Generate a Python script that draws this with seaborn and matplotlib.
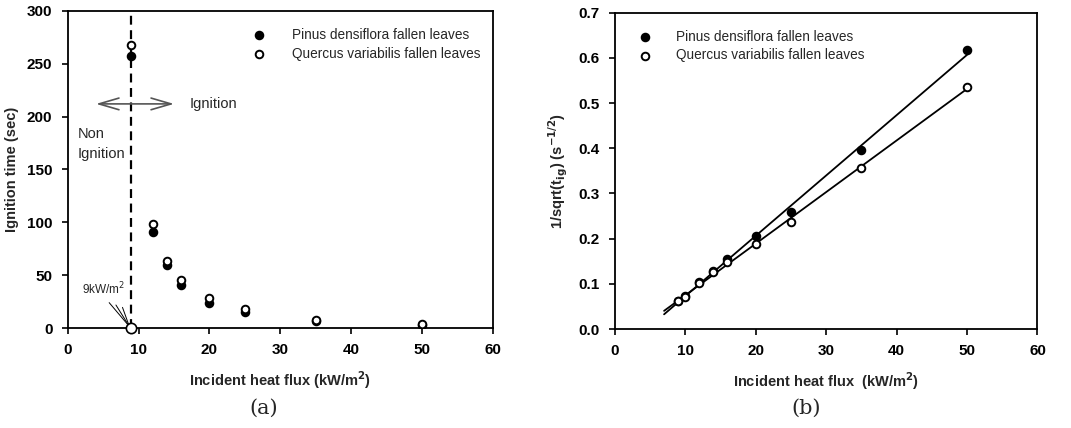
import numpy as np
import pandas as pd
import matplotlib
matplotlib.use("Agg")
import matplotlib.pyplot as plt
import seaborn as sns

# (a) ignition time vs incident heat flux
flux_a = [9, 12, 14, 16, 20, 25, 35, 50]
pinus_time = [257, 91, 60, 41, 24, 15, 6.5, 2.6]
quercus_time = [268, 98, 63, 45, 28, 18, 8, 3.5]
critical_flux = 9

# (b) 1/sqrt(t_ig) vs incident heat flux
flux_b = [9, 10, 12, 14, 16, 20, 25, 35, 50]
pinus_inv = [0.062, 0.072, 0.105, 0.128, 0.156, 0.206, 0.259, 0.397, 0.617]
quercus_inv = [0.061, 0.071, 0.101, 0.126, 0.148, 0.189, 0.236, 0.356, 0.536]
fit_range = [7, 50]

PINUS = "Pinus densiflora fallen leaves"
QUERCUS = "Quercus variabilis fallen leaves"

sns.set_theme(style="ticks")
plt.rcParams['font.family'] = ['Liberation Sans', 'DejaVu Sans']

fig = plt.figure(figsize=(10.71, 4.28), dpi=100)
ax1 = fig.add_axes([0.0632, 0.2336, 0.397, 0.741])
ax2 = fig.add_axes([0.574, 0.2313, 0.3947, 0.739])

df_a = pd.DataFrame({'flux': flux_a * 2,
                     'time': pinus_time + quercus_time,
                     'sp': [PINUS] * len(flux_a) + [QUERCUS] * len(flux_a)})
df_b = pd.DataFrame({'flux': flux_b * 2,
                     'inv': pinus_inv + quercus_inv,
                     'sp': [PINUS] * len(flux_b) + [QUERCUS] * len(flux_b)})

mk = dict(s=30, linewidth=1.4, edgecolor='black')

def draw_points(ax, df, ycol):
    for sp, fc in [(PINUS, 'black'), (QUERCUS, 'white')]:
        sub = df[df['sp'] == sp]
        sns.scatterplot(x='flux', y=ycol, data=sub, ax=ax, color=fc, label=sp,
                        zorder=3, **mk)

# ---- panel (a)
draw_points(ax1, df_a, 'time')
ax1.axvline(critical_flux, color='black', ls=(0, (4, 2.5)), lw=1.6, zorder=2)
ax1.scatter([critical_flux], [0], s=55, facecolor='white', edgecolor='black',
            linewidth=1.2, zorder=4, clip_on=False)
ax1.annotate('', xy=(3.6, 212), xytext=(15.4, 212),
             arrowprops=dict(arrowstyle='<->,head_length=1.2,head_width=0.35',
                             color='#555555', lw=1.2))
ax1.text(17.2, 212, 'Ignition', fontsize=10.5, va='center', ha='left')
ax1.text(1.4, 174, 'Non\nIgnition', fontsize=10.5, va='center', ha='left', linespacing=1.5)
ax1.text(2.0, 29, '9kW/m$^2$', fontsize=8.5, va='bottom', ha='left')
for sx, sy in [(5.6, 26), (6.6, 24), (7.6, 22)]:
    ax1.annotate('', xy=(8.7, 1.5), xytext=(sx, sy),
                 arrowprops=dict(arrowstyle='-', color='black', lw=0.7))
ax1.set_xlim(0, 60)
ax1.set_ylim(0, 300)
ax1.set_xticks(range(0, 61, 10))
ax1.set_yticks(range(0, 301, 50))
ax1.set_xlabel('Incident heat flux (kW/m$^\\mathbf{2}$)', fontsize=10.5, fontweight='bold', labelpad=9)
ax1.set_ylabel('Ignition time (sec)', fontsize=10.5, fontweight='bold', labelpad=6)

# ---- panel (b)
draw_points(ax2, df_b, 'inv')
xs = np.linspace(fit_range[0], fit_range[1], 50)
for yv in [pinus_inv, quercus_inv]:
    coef = np.polyfit(flux_b, yv, 1)
    sns.lineplot(x=xs, y=np.polyval(coef, xs), ax=ax2, color='black', lw=1.3, zorder=2)
ax2.set_xlim(0, 60)
ax2.set_ylim(0, 0.7)
ax2.set_xticks(range(0, 61, 10))
ax2.set_yticks(np.arange(0, 0.71, 0.1))
ax2.yaxis.set_major_formatter(matplotlib.ticker.FormatStrFormatter('%.1f'))
ax2.set_xlabel('Incident heat flux  (kW/m$^\\mathbf{2}$)', fontsize=10.5, fontweight='bold', labelpad=9)
ax2.set_ylabel('1/sqrt(t$_\\mathbf{ig}$) (s$^\\mathbf{-1/2}$)', fontsize=10.5, fontweight='bold', labelpad=6)

for ax in (ax1, ax2):
    for sp in ax.spines.values():
        sp.set_visible(True)
        sp.set_linewidth(1.3)
        sp.set_color('black')
    ax.tick_params(direction='out', length=4, width=1.2, colors='black', labelsize=11, pad=7)
    for lab in ax.get_xticklabels() + ax.get_yticklabels():
        lab.set_fontweight('bold')

leg1 = ax1.legend(loc='upper right', bbox_to_anchor=(1.0, 0.985), frameon=False, fontsize=9.8,
                  handletextpad=1.4, labelspacing=0.35, markerscale=1.0)
leg2 = ax2.legend(loc='upper left', bbox_to_anchor=(0.01, 0.985), frameon=False, fontsize=9.8,
                  handletextpad=1.3, labelspacing=0.35)

fig.text(0.246, 0.047, '(a)', fontsize=15, family='DejaVu Serif', ha='center', va='center')
fig.text(0.753, 0.047, '(b)', fontsize=15, family='DejaVu Serif', ha='center', va='center')

fig.savefig('out.png', dpi=100)
